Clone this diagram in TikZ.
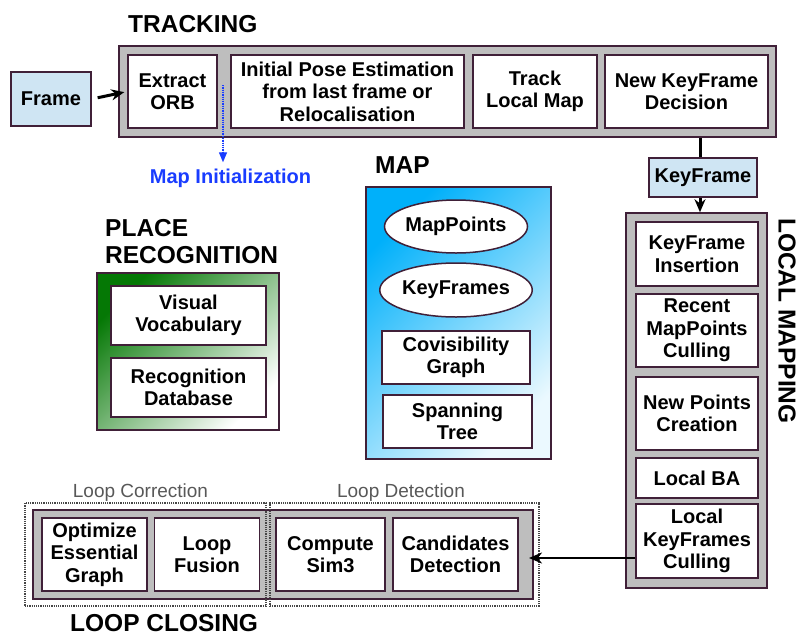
\documentclass[tikz,border=0pt]{standalone}
\usepackage{fontspec}
\setmainfont{Liberation Sans}
\usetikzlibrary{arrows.meta,shapes.geometric,positioning}
\definecolor{boxedge}{RGB}{64,32,56}
\definecolor{threadgray}{RGB}{190,190,190}
\definecolor{datafill}{RGB}{207,229,243}
\definecolor{recgreen}{RGB}{5,120,5}
\definecolor{mapblue}{RGB}{0,176,250}
\definecolor{initblue}{RGB}{25,60,255}
\definecolor{stagegray}{RGB}{70,70,70}
\newcommand{\boxfont}{\fontsize{20}{22.5}\selectfont\bfseries}
\newcommand{\headfont}{\fontsize{24.5}{27}\selectfont\bfseries}
\tikzset{module/.style={rectangle,draw=boxedge,line width=1.5pt,fill=white,inner sep=0pt,align=center,font=\boxfont}}
\tikzset{thread/.style={rectangle,draw=boxedge,line width=1.5pt,fill=threadgray,inner sep=0pt}}
\tikzset{datum/.style={module,fill=datafill}}
\tikzset{area/.style={rectangle,draw=boxedge,line width=1.5pt,inner sep=0pt}}
\tikzset{stage/.style={rectangle,draw=stagegray,densely dotted,line width=1.2pt,inner sep=0pt}}
\tikzset{heading/.style={inner sep=0pt,font=\headfont,align=left}}
\tikzset{stagelabel/.style={inner sep=0pt,font=\fontsize{19}{22}\selectfont,text=stagegray!90}}
\tikzset{toArrow/.style={-{Stealth[length=13pt,width=11pt]},line width=3pt}}
\tikzset{link/.style={line width=3pt}}
\tikzset{initArrow/.style={-{Triangle[length=10pt,width=8pt]},densely dotted,line width=1.3pt,draw=initblue,fill=initblue}}

\begin{document}
\begin{tikzpicture}[x=1pt,y=-1pt]
\useasboundingbox (0,0) rectangle (798,635);
% tracking
\node (tracking) [thread, minimum width=657pt, minimum height=91pt] at (447.5,91.5) {};
\node (trackhead) [heading, anchor=base west] at (128,32) {TRACKING};
\node (extract) [module, minimum width=89pt, minimum height=73pt] at (172.5,91.5) {Extract\\ORB};
\node (pose) [module, minimum width=233pt, minimum height=73pt] at (347.5,91.5) {Initial Pose Estimation\\from last frame or\\Relocalisation};
\node (localtrack) [module, minimum width=124pt, minimum height=73pt] at (535,91.5) {Track\\Local Map};
\node (kfdecision) [module, minimum width=163pt, minimum height=73pt] at (686.5,91.5) {New KeyFrame\\Decision};
\node (frame) [datum, minimum width=80pt, minimum height=54pt] at (51,99) {Frame};
\draw [toArrow, shorten <=6pt, shorten >=3pt] (frame.east) -- (extract.west);
% map initialization
\coordinate (initsrc) at (223,85);
\node (mapinit) [inner sep=0pt, font=\boxfont, text=initblue, anchor=base] at (230.5,183) {Map Initialization};
\draw [initArrow, shorten >=6pt] (initsrc) -- (initsrc |- mapinit.north);
% keyframe
\node (keyframe) [datum, minimum width=108pt, minimum height=39pt] at (703,177.5) {KeyFrame};
\draw [link] ([xshift=-3pt]keyframe.north |- tracking.south) -- ([xshift=-3pt]keyframe.north);
% local mapping
\node (localmap) [thread, minimum width=141pt, minimum height=375pt] at (696.5,400.5) {};
\node (lmhead) [heading, rotate=-90] at (787,321) {LOCAL MAPPING};
\draw [toArrow] ([xshift=-3pt]keyframe.south) -- ([xshift=-3pt]keyframe.south |- localmap.north);
\node (kfinsert) [module, minimum width=122pt, minimum height=64pt] at (697,254) {KeyFrame\\Insertion};
\node (mpculling) [module, minimum width=122pt, minimum height=73pt] at (697,330.5) {Recent\\MapPoints\\Culling};
\node (newpoints) [module, minimum width=122pt, minimum height=73pt] at (697,413.5) {New Points\\Creation};
\node (localba) [module, minimum width=122pt, minimum height=40pt] at (697,478) {Local BA};
\node (kfculling) [module, minimum width=122pt, minimum height=74pt] at (697,541) {Local\\KeyFrames\\Culling};
% loop closing
\node (loopclosing) [thread, minimum width=500pt, minimum height=89pt] at (283,554.5) {};
\node (lchead) [heading, anchor=base west] at (70,631) {LOOP CLOSING};
\node (essgraph) [module, minimum width=105pt, minimum height=73pt] at (94.5,554.5) {Optimize\\Essential\\Graph};
\node (fusion) [module, minimum width=105pt, minimum height=73pt] at (207,554.5) {Loop\\Fusion};
\node (sim3) [module, minimum width=109pt, minimum height=73pt] at (330.5,554.5) {Compute\\Sim3};
\node (candidates) [module, minimum width=125pt, minimum height=73pt] at (455.5,554.5) {Candidates\\Detection};
\node (loopcorr) [stage, minimum width=241pt, minimum height=103pt] at (145.5,554.5) {};
\node (loopdet) [stage, minimum width=269pt, minimum height=103pt] at (404.5,554.5) {};
\node (corrlabel) [stagelabel, anchor=base] at (140.5,497) {Loop Correction};
\node (detlabel) [stagelabel, anchor=base] at (401,497) {Loop Detection};
\coordinate (lcinput) at (529,558);
\draw [toArrow, line width=2.5pt] (kfculling.west |- lcinput) -- (lcinput);
% place recognition
\node (placerec) [area, top color=recgreen, bottom color=white, shading angle=45, minimum width=182pt, minimum height=157pt] at (188,351.5) {};
\node (prhead) [heading, anchor=base west] at (105,263) {PLACE\\RECOGNITION};
\node (vocab) [module, minimum width=155pt, minimum height=59pt] at (188.5,315.5) {Visual\\Vocabulary};
\node (recdb) [module, minimum width=155pt, minimum height=59pt] at (188.5,387.5) {Recognition\\Database};
% map
\node (maparea) [area, top color=mapblue, bottom color=mapblue!8, shading angle=45, minimum width=185pt, minimum height=272pt] at (458.5,323) {};
\node (maphead) [heading, anchor=base west] at (375,173) {MAP};
\node (mappoints) [module, ellipse, minimum width=142pt, minimum height=53pt] at (456,226.5) {MapPoints};
\node (keyframes) [module, ellipse, minimum width=142pt, minimum height=54pt] at (456,290) {KeyFrames};
\node (covis) [module, minimum width=148pt, minimum height=53pt] at (456,357.5) {Covisibility\\Graph};
\node (spantree) [module, minimum width=149pt, minimum height=53pt] at (457.5,421.5) {Spanning\\Tree};
\end{tikzpicture}
\end{document}
